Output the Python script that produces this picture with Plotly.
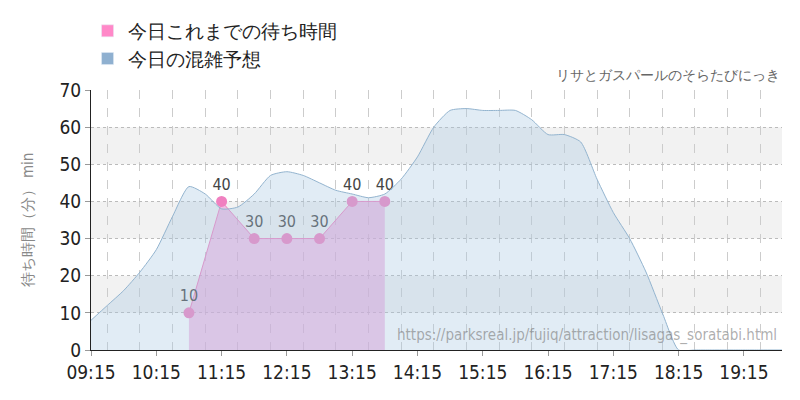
import plotly.graph_objects as go

day = "2024-01-01 "
fc_times = ["09:15", "09:30", "09:45", "10:00", "10:15", "10:30", "10:45", "11:00", "11:15", "11:30",
            "11:45", "12:00", "12:15", "12:30", "12:45", "13:00", "13:15", "13:30", "13:45", "14:00",
            "14:15", "14:30", "14:45", "15:00", "15:15", "15:30", "15:45", "16:00", "16:15", "16:30",
            "16:45", "17:00", "17:15", "17:30", "17:45", "18:00", "18:15", "18:30", "18:45", "19:00",
            "19:15", "19:30", "19:50"]
fc_values = [8, 12, 16, 21, 27, 36, 44, 42, 38, 38.5,
             42, 47, 48, 47, 45, 43, 42, 41, 42, 46,
             52, 60, 64.5, 65, 64.5, 64.5, 64.5, 62, 58, 58,
             56, 46, 37, 30, 21, 10, 0, 0, 0, 0,
             0, 0, 0]
act_times = ["10:45", "11:15", "11:45", "12:15", "12:45", "13:15", "13:45"]
act_values = [10, 40, 30, 30, 30, 40, 40]
tick_labels = ["09:15", "10:15", "11:15", "12:15", "13:15", "14:15", "15:15", "16:15", "17:15", "18:15", "19:15"]

font = "DejaVu Sans Condensed, Roboto, sans-serif"
pink = "#f080c0"
blue = "#93b4cf"

fig = go.Figure()
fig.add_trace(go.Scatter(
    x=[day + t for t in act_times], y=act_values, showlegend=False,
    mode="lines+markers+text", text=[str(v) for v in act_values], textposition="top center",
    textfont=dict(size=16, color="#444"),
    line=dict(color=pink, width=1), marker=dict(size=11, color=pink),
    fill="tozeroy", fillcolor="rgba(235,150,215,0.55)",
))
fig.add_trace(go.Scatter(
    x=[day + t for t in fc_times], y=fc_values, showlegend=False,
    mode="lines", line=dict(color=blue, width=1, shape="spline", smoothing=0.6),
    fill="tozeroy", fillcolor="rgba(170,200,225,0.35)",
))
# legend entries (square swatches)
fig.add_trace(go.Bar(x=[None], y=[None], name="今日これまでの待ち時間", marker_color="#ff88c8"))
fig.add_trace(go.Bar(x=[None], y=[None], name="今日の混雑予想", marker_color="#8fb0d0"))

# grey bands
for y0 in (10, 30, 50):
    fig.add_shape(type="rect", xref="paper", x0=0, x1=1, y0=y0, y1=y0 + 10,
                  fillcolor="#f2f2f2", line_width=0, layer="below")

fig.add_annotation(xref="paper", yref="paper", x=1, y=1.02, xanchor="right", yanchor="bottom",
                   text="リサとガスパールのそらたびにっき", showarrow=False,
                   font=dict(size=14, color="#666"))
fig.add_annotation(xref="paper", yref="paper", x=0.995, y=0.01, xanchor="right", yanchor="bottom",
                   text="https://parksreal.jp/fujiq/attraction/lisagas_soratabi.html", showarrow=False,
                   font=dict(size=15, color="rgba(120,120,120,0.6)"))

fig.update_layout(
    width=800, height=400, margin=dict(l=83, r=26, t=82, b=58, autoexpand=False),
    plot_bgcolor="white", paper_bgcolor="white",
    font=dict(family=font, color="#333"),
    legend=dict(x=-0.005, y=1.3, xanchor="left", yanchor="top", font=dict(size=19, color="#222"),
                itemclick=False, tracegroupgap=4, itemwidth=30),
    showlegend=True, barmode="overlay",
    xaxis=dict(type="date", range=[day + "09:15", day + "19:50"],
               tickvals=[day + t for t in tick_labels], ticktext=tick_labels,
               tickfont=dict(size=19, color="#222"), showgrid=False, showline=True, linecolor="#222",
               ticks="outside", ticklen=5, tickcolor="#999",
               minor=dict(dtick=1800000, showgrid=True, gridcolor="#ccc", griddash="dash", ticks="")),
    yaxis=dict(range=[0, 70], dtick=10, tickfont=dict(size=19, color="#222"), gridcolor="#bbb",
               griddash="dot", showline=True, linecolor="#222", ticks="outside", ticklen=5,
               tickcolor="#999",
               title=dict(text="待ち時間（分） min", font=dict(size=15, color="#888"), standoff=22),
               zeroline=False),
)
fig.write_html("out.html")
